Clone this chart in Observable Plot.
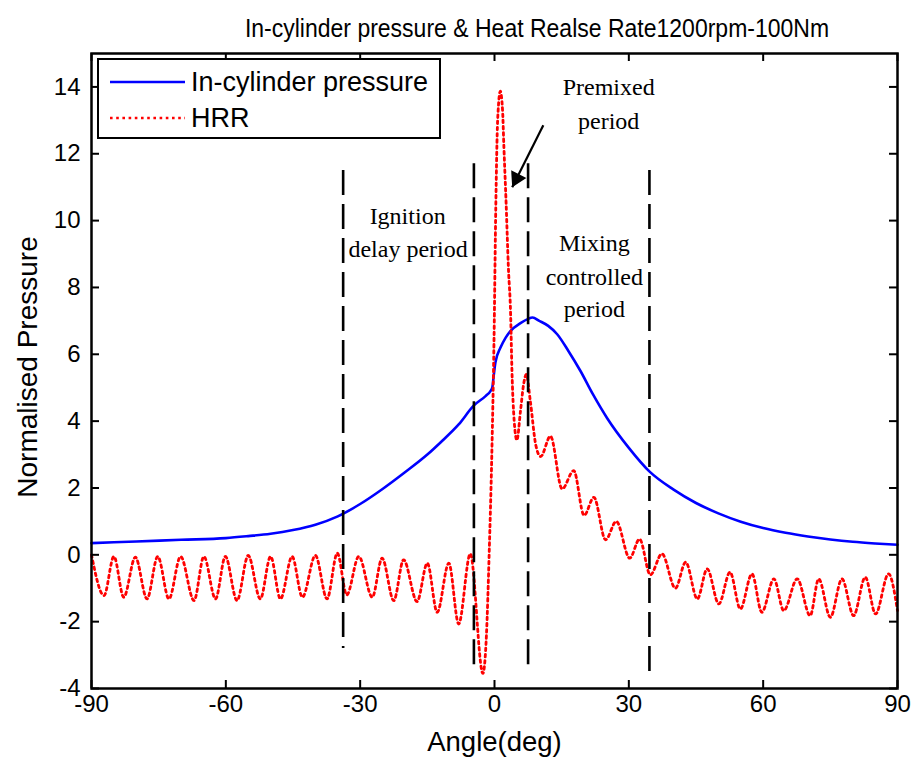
<!DOCTYPE html>
<html><head><meta charset="utf-8">
<script src="https://cdn.jsdelivr.net/npm/d3@7"></script>
<script src="https://cdn.jsdelivr.net/npm/@observablehq/plot@0.6"></script>
<style>
body{margin:0;background:#fff;}
#wrap{position:relative;width:912px;height:760px;background:#fff;overflow:hidden;}
#title{position:absolute;left:537px;top:14px;transform:translateX(-50%) scaleY(1.12);white-space:nowrap;font-family:"Liberation Sans",Arial,sans-serif;font-size:23px;line-height:28px;color:#000;}
#chart{position:absolute;left:0;top:45px;}
#legend{position:absolute;left:97px;top:58px;width:340px;height:77px;border:2px solid #000;background:#fff;font-family:"Liberation Sans",Arial,sans-serif;font-size:27px;color:#000;}
#legend .row{position:absolute;left:11px;height:36px;line-height:36px;white-space:nowrap;}
#legend .row svg{position:absolute;left:0;top:0;}
#legend .row span{position:absolute;left:81px;top:0;}
</style></head><body>
<div id="wrap">
  <div id="title"></div>
  <div id="chart"></div>
  <div id="legend"></div>
</div>
<script>
// ---- data ----
const titleText = "In-cylinder pressure & Heat Realse Rate1200rpm-100Nm";
const xLabel = "Angle(deg)";
const yLabel = "Normalised Pressure";
const xTicks = [-90, -60, -30, 0, 30, 60, 90];
const yTicks = [-4, -2, 0, 2, 4, 6, 8, 10, 12, 14];

const seriesNames = ["In-cylinder pressure", "HRR"];
const seriesColors = ["#0000ff", "#ff0000"];

const pressureAngle = [-90,-80,-70,-60,-55,-50,-45,-40,-35,-30,-25,-20,-15,-12,-8,-4.6,-2,-0.9,-0.5,-0.15,0.2,1.34,2.5,3.6,5.8,7.5,8.5,10,12,14,16.5,19.2,22,25.2,30,34.7,40,45,50,55,60,65,70,75,80,85,90];
const pressureValue = [0.35,0.40,0.45,0.50,0.56,0.63,0.74,0.90,1.15,1.52,1.97,2.47,3.0,3.37,3.9,4.47,4.75,4.9,5.0,5.39,5.75,6.2,6.5,6.7,6.93,7.06,7.1,7.0,6.85,6.6,6.1,5.5,4.8,4.08,3.2,2.48,1.95,1.55,1.24,0.99,0.80,0.66,0.55,0.46,0.39,0.34,0.30];

const hrrAngle = [-90,-87.2,-85,-82.8,-80.2,-77.6,-75.2,-72.7,-70.1,-67.1,-64.9,-62.3,-60.1,-57.5,-55,-52.3,-50,-47.8,-45.2,-42.9,-40,-37.4,-35.1,-33,-30.3,-27.3,-25.1,-22.5,-20.3,-17.3,-15,-12.8,-10.2,-8,-5.4,-2.6,-1.8,-1.2,-0.6,-0.1,0.3,0.7,1.3,1.8,2.1,2.6,3.1,3.6,3.9,4.4,5,5.8,6.5,7.1,8,9.2,10.3,12.5,15.1,17.7,20,22.2,24.8,27.2,30.2,32.4,34.8,37.4,40.4,42.7,45.3,47.5,50.1,52.6,54.9,57.5,59.7,62.4,64.6,67.6,70.5,72.4,75,77.6,80.2,82.8,85.1,88,90];
const hrrValue = [0.0,-1.22,-0.05,-1.27,-0.07,-1.32,-0.05,-1.32,-0.05,-1.37,-0.05,-1.32,-0.05,-1.37,-0.02,-1.32,-0.05,-1.32,-0.05,-1.27,-0.02,-1.32,0.05,-1.2,-0.05,-1.27,-0.1,-1.37,-0.15,-1.4,-0.25,-1.72,-0.25,-2.07,0.03,-3.55,-2.4,0.0,3.0,6.5,10.5,13.0,13.87,13.3,12.2,10.5,8.6,7.2,5.5,4.0,3.43,4.3,5.1,5.4,4.6,3.3,2.94,3.55,1.97,2.52,1.18,1.72,0.45,1.0,-0.1,0.47,-0.6,0.03,-1.0,-0.22,-1.32,-0.42,-1.47,-0.52,-1.62,-0.57,-1.72,-0.72,-1.67,-0.72,-1.82,-0.72,-1.87,-0.72,-1.82,-0.67,-1.77,-0.57,-1.67];

const boundaryAngle = [-33.8, -4.6, 7.5, 34.6];
const boundaryTop = [11.5, 11.7, 11.7, 11.5];
const boundaryBottom = [-2.8, -3.3, -3.3, -3.5];

const noteText = ["Premixed", "period", "Ignition", "delay period", "Mixing", "controlled", "period"];
const noteAngle = [25.5, 25.5, -19.4, -19.3, 22.3, 22.3, 22.3];
const noteValue = [13.98, 12.96, 10.12, 9.14, 9.31, 8.3, 7.34];

const arrowFrom = [10.9, 12.85];
const arrowTo = [3.95, 11.0];
const arrowHead = [4.93, 11.26];

// ---- build ----
document.getElementById("title").textContent = titleText;

const pressure = pressureAngle.map((a, i) => ({angle: a, value: pressureValue[i]}));
const hrr = hrrAngle.map((a, i) => ({angle: a, value: hrrValue[i]}));
const boundaries = boundaryAngle.map((a, i) => ({angle: a, top: boundaryTop[i], bottom: boundaryBottom[i]}));
const notes = noteText.map((t, i) => ({text: t, angle: noteAngle[i], value: noteValue[i]}));
const arrow = [{x1: arrowFrom[0], y1: arrowFrom[1], x2: arrowTo[0], y2: arrowTo[1], hx: arrowHead[0], hy: arrowHead[1]}];

const W = 912, H = 715;
const mL = 91, mR = 15, mT = 8, mB = 72;
const frameW = W - mL - mR;
const frameH = H - mT - mB;
const sans = '"Liberation Sans", Arial, sans-serif';
const serif = '"Liberation Serif", "Times New Roman", serif';
const dotted = "2.6,3.6";

const chart = Plot.plot({
  width: W, height: H,
  marginLeft: mL, marginRight: mR, marginTop: mT, marginBottom: mB,
  style: {fontFamily: sans, fontSize: "24px", color: "#000", background: "#fff", overflow: "visible"},
  x: {domain: [-90, 90]},
  y: {domain: [-4, 15]},
  marks: [
    Plot.line(pressure, {x: "angle", y: "value", stroke: seriesColors[0], strokeWidth: 2.6, curve: "monotone-x"}),
    Plot.line(hrr, {x: "angle", y: "value", stroke: seriesColors[1], strokeWidth: 2.8, strokeDasharray: dotted, curve: "monotone-x"}),
    Plot.ruleX(boundaries, {x: "angle", y1: "top", y2: "bottom", stroke: "#000", strokeWidth: 2.6, strokeDasharray: "25,9"}),
    Plot.text(notes, {x: "angle", y: "value", text: "text", fontFamily: serif, fontSize: 24, fill: "#000", lineAnchor: "middle"}),
    Plot.link(arrow, {x1: "x1", y1: "y1", x2: "x2", y2: "y2", stroke: "#000", strokeWidth: 2.2}),
    Plot.dot(arrow, {x: "hx", y: "hy", symbol: "triangle", r: 6.3, fill: "#000", stroke: "none", rotate: 206.6}),
    Plot.tickX(xTicks, {x: d => d, insetTop: frameH - 8, stroke: "#000", strokeWidth: 2}),
    Plot.tickX(xTicks, {x: d => d, insetBottom: frameH - 8, stroke: "#000", strokeWidth: 2}),
    Plot.tickY(yTicks, {y: d => d, insetRight: frameW - 8, stroke: "#000", strokeWidth: 2}),
    Plot.tickY(yTicks, {y: d => d, insetLeft: frameW - 8, stroke: "#000", strokeWidth: 2}),
    Plot.axisX({ticks: xTicks, tickSize: 0, tickPadding: 6, tickFormat: d => String(d), label: null, fontSize: 24}),
    Plot.axisY({ticks: yTicks, tickSize: 0, tickPadding: 11, tickFormat: d => String(d), label: null, fontSize: 24}),
    Plot.frame({stroke: "#000", strokeWidth: 2.5}),
    Plot.text([xLabel], {frameAnchor: "bottom", dy: 54, fontSize: 27.5, textAnchor: "middle", lineAnchor: "middle"}),
    Plot.text([yLabel], {frameAnchor: "left", dx: -63, dy: -4, rotate: -90, fontSize: 28, textAnchor: "middle", lineAnchor: "middle"})
  ]
});
document.getElementById("chart").appendChild(chart);

// legend
const legend = d3.select("#legend");
const rowTops = [4, 40];
seriesNames.forEach((name, i) => {
  const row = legend.append("div").attr("class", "row").style("top", rowTops[i] + "px");
  const svg = row.append("svg").attr("width", 76).attr("height", 36);
  svg.append("line").attr("x1", 0).attr("x2", 75).attr("y1", 18).attr("y2", 18)
    .attr("stroke", seriesColors[i]).attr("stroke-width", 2.6)
    .attr("stroke-dasharray", i === 1 ? dotted : null);
  row.append("span").text(name);
});
</script>
</body></html>
